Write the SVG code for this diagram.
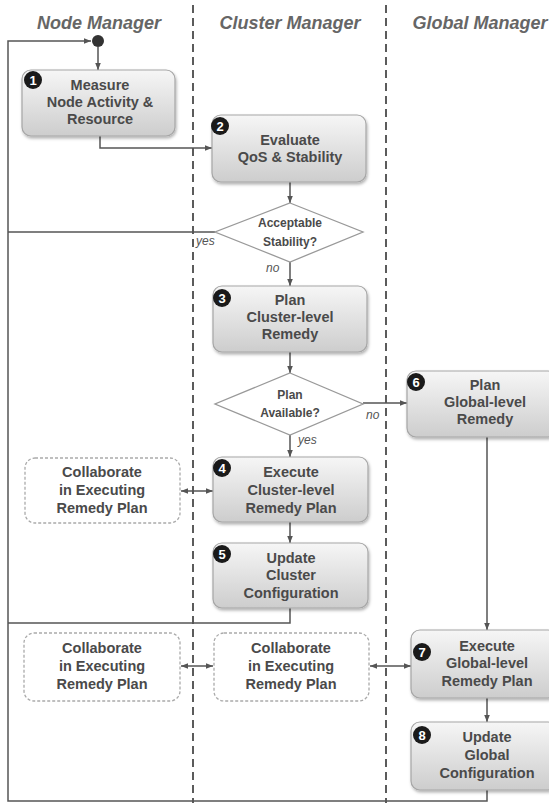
<svg xmlns="http://www.w3.org/2000/svg" width="549" height="803" viewBox="0 0 549 803">
<defs>
<linearGradient id="g" x1="0" y1="0" x2="0" y2="1">
<stop offset="0" stop-color="#f6f6f6"/>
<stop offset="1" stop-color="#cdcdcd"/>
</linearGradient>
<filter id="sh" x="-10%" y="-10%" width="130%" height="140%">
<feDropShadow dx="1" dy="2" stdDeviation="1.5" flood-color="#000" flood-opacity="0.3"/>
</filter>
<marker id="ar" viewBox="0 0 10 10" refX="10" refY="5" markerWidth="7" markerHeight="7" orient="auto-start-reverse" markerUnits="userSpaceOnUse">
<path d="M0,1 L10,5 L0,9 z" fill="#555"/>
</marker>
</defs>
<style>
.hdr{font-family:"Liberation Sans",Arial,sans-serif;font-weight:bold;font-style:italic;font-size:18px;fill:#666;text-anchor:middle}
.box{fill:url(#g);stroke:#a6a6a6;stroke-width:1.2;filter:url(#sh)}
.cbox{fill:#fff;stroke:#aaa;stroke-width:1.3;stroke-dasharray:3 2}
.dia{fill:#fff;stroke:#999;stroke-width:1.3}
.t{font-family:"Liberation Sans",Arial,sans-serif;font-weight:bold;font-size:14.5px;fill:#4a4a4a;text-anchor:middle}
.ts{font-family:"Liberation Sans",Arial,sans-serif;font-weight:bold;font-size:12px;fill:#4a4a4a;text-anchor:middle}
.lbl{font-family:"Liberation Sans",Arial,sans-serif;font-style:italic;font-size:12px;fill:#555}
.bd{fill:#1a1a1a}
.bn{font-family:"Liberation Sans",Arial,sans-serif;font-weight:bold;font-size:13px;fill:#fff;text-anchor:middle}
.ln{fill:none;stroke:#555;stroke-width:1.5}
.div{stroke:#333;stroke-width:1.6;stroke-dasharray:8 5}
</style>
<rect width="549" height="803" fill="#fff"/>
<g id="lanes">
<line class="div" x1="193" y1="5" x2="193" y2="803"/>
<line class="div" x1="386" y1="5" x2="386" y2="803"/>
<text class="hdr" x="99" y="29">Node Manager</text>
<text class="hdr" x="290" y="29">Cluster Manager</text>
<text class="hdr" x="480" y="29">Global Manager</text>
</g>
<g id="connectors">
<path class="ln" d="M487,790 V801 H8 V41 H91" marker-end="url(#ar)"/>
<path class="ln" d="M290,608 V623 H8"/>
<path class="ln" d="M215,232 H8"/>
<path class="ln" d="M98,47 V70" marker-end="url(#ar)"/>
<path class="ln" d="M100,136 V148 H212" marker-end="url(#ar)"/>
<path class="ln" d="M290,182 V203" marker-end="url(#ar)"/>
<path class="ln" d="M290,262 V286" marker-end="url(#ar)"/>
<path class="ln" d="M290,352 V373" marker-end="url(#ar)"/>
<path class="ln" d="M363,403 H407" marker-end="url(#ar)"/>
<path class="ln" d="M290,435 V457" marker-end="url(#ar)"/>
<path class="ln" d="M290,522 V543" marker-end="url(#ar)"/>
<path class="ln" d="M487,437 V630" marker-end="url(#ar)"/>
<path class="ln" d="M487,698 V722" marker-end="url(#ar)"/>
<path class="ln" d="M181,491 H213" marker-start="url(#ar)" marker-end="url(#ar)"/>
<path class="ln" d="M181,666 H213" marker-start="url(#ar)" marker-end="url(#ar)"/>
<path class="ln" d="M370,666 H411" marker-start="url(#ar)" marker-end="url(#ar)"/>
<text class="lbl" x="196" y="245">yes</text>
<text class="lbl" x="266" y="272">no</text>
<text class="lbl" x="366" y="419">no</text>
<text class="lbl" x="298" y="444">yes</text>
</g>
<g id="start"><circle cx="98" cy="41" r="6" fill="#333"/></g>
<g id="n1">
<rect class="box" x="22" y="70" width="153" height="66" rx="9"/>
<circle class="bd" cx="33" cy="80" r="9"/><text class="bn" x="33" y="84.5">1</text>
<text class="t" x="100" y="90">Measure</text>
<text class="t" x="100" y="107">Node Activity &amp;</text>
<text class="t" x="100" y="124">Resource</text>
</g>
<g id="n2">
<rect class="box" x="212" y="115" width="154" height="67" rx="9"/>
<circle class="bd" cx="220" cy="126" r="9"/><text class="bn" x="220" y="130.5">2</text>
<text class="t" x="290" y="145">Evaluate</text>
<text class="t" x="290" y="162">QoS &amp; Stability</text>
</g>
<g id="d1">
<polygon class="dia" points="290,203 363,232 290,262 215,232"/>
<text class="ts" x="290" y="227">Acceptable</text>
<text class="ts" x="290" y="246">Stability?</text>
</g>
<g id="n3">
<rect class="box" x="213" y="286" width="154" height="66" rx="9"/>
<circle class="bd" cx="222" cy="298" r="9"/><text class="bn" x="222" y="302.5">3</text>
<text class="t" x="290" y="305">Plan</text>
<text class="t" x="290" y="322">Cluster-level</text>
<text class="t" x="290" y="339">Remedy</text>
</g>
<g id="d2">
<polygon class="dia" points="290,373 363,404 290,435 215,404"/>
<text class="ts" x="290" y="399">Plan</text>
<text class="ts" x="290" y="417">Available?</text>
</g>
<g id="n6">
<rect class="box" x="407" y="371" width="150" height="66" rx="9"/>
<circle class="bd" cx="416" cy="382" r="9"/><text class="bn" x="416" y="386.5">6</text>
<text class="t" x="485" y="390">Plan</text>
<text class="t" x="485" y="407">Global-level</text>
<text class="t" x="485" y="424">Remedy</text>
</g>
<g id="c1">
<rect class="cbox" x="25" y="458" width="155" height="65" rx="10"/>
<text class="t" x="102" y="477">Collaborate</text>
<text class="t" x="102" y="495">in Executing</text>
<text class="t" x="102" y="513">Remedy Plan</text>
</g>
<g id="n4">
<rect class="box" x="213" y="457" width="155" height="65" rx="9"/>
<circle class="bd" cx="222" cy="468" r="9"/><text class="bn" x="222" y="472.5">4</text>
<text class="t" x="291" y="477">Execute</text>
<text class="t" x="291" y="495">Cluster-level</text>
<text class="t" x="291" y="513">Remedy Plan</text>
</g>
<g id="n5">
<rect class="box" x="213" y="543" width="155" height="65" rx="9"/>
<circle class="bd" cx="222" cy="554" r="9"/><text class="bn" x="222" y="558.5">5</text>
<text class="t" x="291" y="563">Update</text>
<text class="t" x="291" y="580">Cluster</text>
<text class="t" x="291" y="598">Configuration</text>
</g>
<g id="c2">
<rect class="cbox" x="24" y="633" width="156" height="68" rx="10"/>
<text class="t" x="102" y="653">Collaborate</text>
<text class="t" x="102" y="671">in Executing</text>
<text class="t" x="102" y="689">Remedy Plan</text>
</g>
<g id="c3">
<rect class="cbox" x="214" y="633" width="155" height="68" rx="10"/>
<text class="t" x="291" y="653">Collaborate</text>
<text class="t" x="291" y="671">in Executing</text>
<text class="t" x="291" y="689">Remedy Plan</text>
</g>
<g id="n7">
<rect class="box" x="411" y="630" width="146" height="68" rx="9"/>
<circle class="bd" cx="422" cy="652" r="9"/><text class="bn" x="422" y="656.5">7</text>
<text class="t" x="487" y="651">Execute</text>
<text class="t" x="487" y="668">Global-level</text>
<text class="t" x="487" y="686">Remedy Plan</text>
</g>
<g id="n8">
<rect class="box" x="411" y="722" width="146" height="68" rx="9"/>
<circle class="bd" cx="422" cy="735" r="9"/><text class="bn" x="422" y="739.5">8</text>
<text class="t" x="487" y="742">Update</text>
<text class="t" x="487" y="760">Global</text>
<text class="t" x="487" y="778">Configuration</text>
</g>
</svg>
